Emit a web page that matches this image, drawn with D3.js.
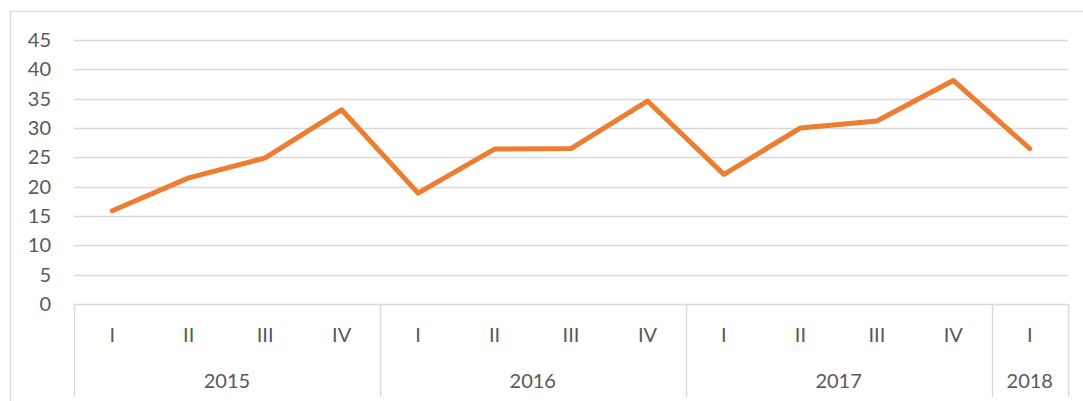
<!DOCTYPE html>
<html>
<head>
<meta charset="utf-8">
<script src="https://cdn.jsdelivr.net/npm/d3@7"></script>
<style>
    body { margin: 0; background: #fff; }
    svg { display: block; font-family: Lato, "Open Sans", sans-serif; }
    .tick-label { fill: #595959; font-size: 20px; }
</style>
</head>
<body>
<div id="graf"></div>
<script>
// Datos
const quarters = ["I", "II", "III", "IV", "I", "II", "III", "IV", "I", "II", "III", "IV", "I"];
const years = ["2015", "2015", "2015", "2015", "2016", "2016", "2016", "2016", "2017", "2017", "2017", "2017", "2018"];
const values = [15.9, 21.5, 24.9, 33.1, 18.9, 26.4, 26.5, 34.6, 22.1, 30.0, 31.2, 38.1, 26.5];
const yTicks = [0, 5, 10, 15, 20, 25, 30, 35, 40, 45];

// Dimensiones
const anchoTotal = 1083;
const altoTotal = 401;
const margins = { top: 40, right: 15, bottom: 97, left: 74 };
const ancho = anchoTotal - margins.left - margins.right;
const alto = 304 - margins.top;

const svg = d3.select("#graf")
    .append("svg")
    .attr("width", anchoTotal)
    .attr("height", altoTotal);

// Borde exterior
svg.append("rect")
    .attr("x", 10.5)
    .attr("y", 11.5)
    .attr("width", anchoTotal)
    .attr("height", altoTotal)
    .attr("fill", "none")
    .attr("stroke", "#d9d9d9")
    .attr("stroke-width", 1.3);

const g = svg.append("g").attr("transform", `translate(${margins.left}, ${margins.top})`);

// Escaladores
const idx = d3.range(values.length);
const x = d3.scaleBand().domain(idx).range([0, ancho]);
const y = d3.scaleLinear().domain([0, 45]).range([alto, 0]);

// Lineas de cuadricula
g.append("g")
    .selectAll("line")
    .data(yTicks)
    .join("line")
    .attr("x1", 0)
    .attr("x2", ancho)
    .attr("y1", (d) => Math.round(y(d)) + 0.5)
    .attr("y2", (d) => Math.round(y(d)) + 0.5)
    .attr("stroke", "#d9d9d9")
    .attr("stroke-width", 1.4);

// Etiquetas eje Y
g.append("g")
    .selectAll("text")
    .data(yTicks)
    .join("text")
    .attr("class", "tick-label")
    .attr("x", -23)
    .attr("y", (d) => y(d))
    .attr("dy", "0.35em")
    .attr("text-anchor", "end")
    .text((d) => d);

// Eje X multinivel
const groups = [];
years.forEach((yr, i) => {
    const last = groups[groups.length - 1];
    if (last && last.year === yr) last.end = i;
    else groups.push({ year: yr, start: i, end: i });
});

const bounds = [0].concat(groups.map((d) => x(d.end) + x.bandwidth()));
g.append("g")
    .selectAll("line")
    .data(bounds)
    .join("line")
    .attr("x1", (d) => Math.round(d) + 0.5)
    .attr("x2", (d) => Math.round(d) + 0.5)
    .attr("y1", alto)
    .attr("y2", 397 - margins.top)
    .attr("stroke", "#d9d9d9")
    .attr("stroke-width", 1.4);

g.append("g")
    .selectAll("text")
    .data(idx)
    .join("text")
    .attr("class", "tick-label")
    .attr("x", (d) => x(d) + x.bandwidth() / 2)
    .attr("y", 335 - margins.top)
    .attr("dy", "0.35em")
    .attr("text-anchor", "middle")
    .text((d) => quarters[d]);

g.append("g")
    .selectAll("text")
    .data(groups)
    .join("text")
    .attr("class", "tick-label")
    .attr("x", (d) => (x(d.start) + x(d.end) + x.bandwidth()) / 2)
    .attr("y", 381 - margins.top)
    .attr("dy", "0.35em")
    .attr("text-anchor", "middle")
    .text((d) => d.year);

// Linea de datos
const line = d3.line()
    .x((d, i) => x(i) + x.bandwidth() / 2)
    .y((d) => y(d));

g.append("path")
    .datum(values)
    .attr("d", line)
    .attr("fill", "none")
    .attr("stroke", "#ed7d31")
    .attr("stroke-width", 5)
    .attr("stroke-linejoin", "round")
    .attr("stroke-linecap", "round");
</script>
</body>
</html>
